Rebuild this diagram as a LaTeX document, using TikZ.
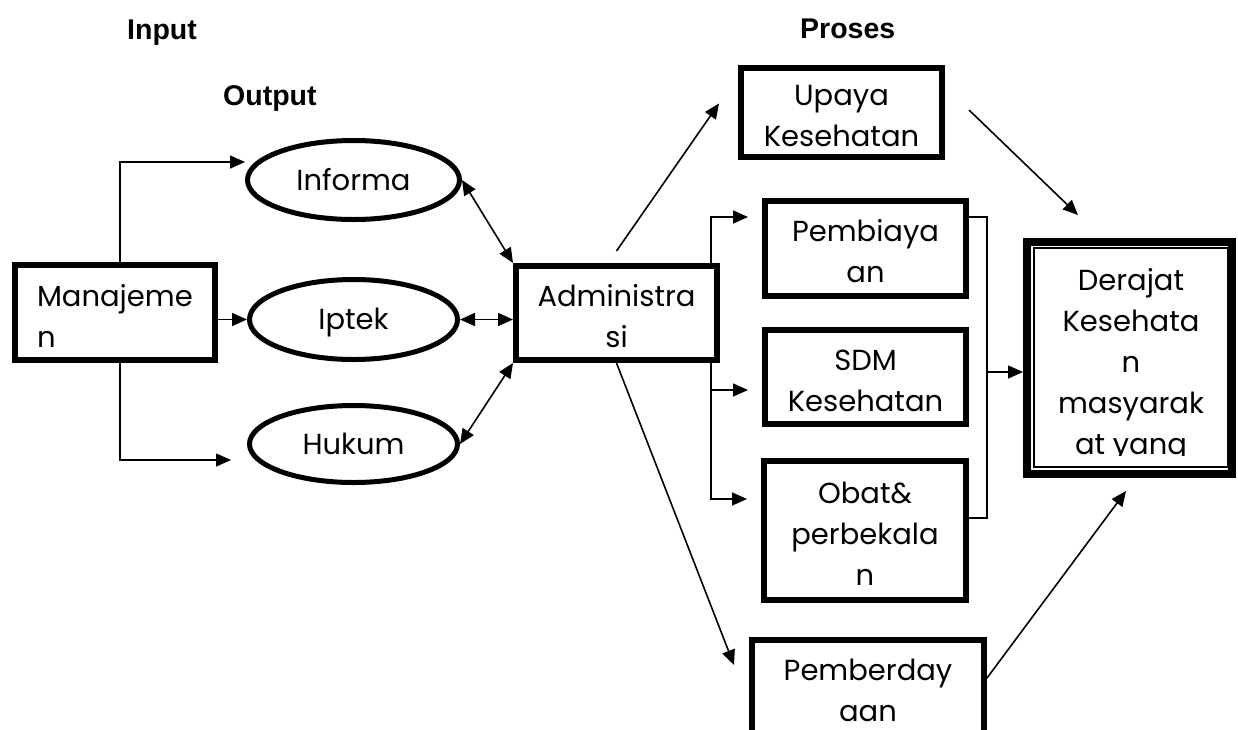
\documentclass[tikz,border=0pt]{standalone}
\usepackage{fontspec}
\setmainfont{Poppins}
\newfontfamily\headfont{Liberation Sans}
\usetikzlibrary{arrows.meta,shapes.geometric}

% strut that fixes the height of the first text row in the boxes
\newcommand\toprow{\rule{0pt}{28pt}}

\tikzset{
  bodyfont/.style={font=\fontsize{29}{41}\selectfont},
  boxthick/.style={draw,line width=6pt,rectangle,inner sep=0pt,align=center,bodyfont},
  ovalthick/.style={draw,line width=5pt,ellipse,inner sep=0pt,bodyfont,
    text height=20pt,text depth=0pt},
  boxtext/.style={anchor=north,inner sep=0pt,align=center,bodyfont},
  heading/.style={anchor=base west,inner sep=0pt,font=\headfont\bfseries\fontsize{28.5}{34}\selectfont},
  link/.style={line width=1.6pt},
  arr/.style={link,-{Triangle[length=15pt,width=13pt]}},
  darr/.style={link,{Triangle[length=15pt,width=13pt]}-{Triangle[length=15pt,width=13pt]}},
}

\begin{document}
\begin{tikzpicture}[x=1pt,y=-1pt]
\useasboundingbox (0,0) rectangle (1238,729);

% headings
\node[heading] (hin)  at (127,39)  {Input};
\node[heading] (hout) at (223,105) {Output};
\node[heading] (hpro) at (800,38)  {Proses};

% input side
\node[boxthick,minimum height=95pt,text width=156pt,inner xsep=22pt,align=left]
  (manajemen) at (115,312.5) {\toprow Manajeme\\n};
\node[ovalthick,minimum width=212pt,minimum height=79pt] (informa) at (353.5,180) {Informa};
\node[ovalthick,minimum width=208pt,minimum height=80pt] (iptek)   at (353.5,319.5) {Iptek};
\node[ovalthick,minimum width=208pt,minimum height=77pt] (hukum)   at (353.5,444) {Hukum};

% process side
\node[boxthick,minimum width=201pt,minimum height=94pt] (admin) at (616.5,313) {\toprow Administra\\si};
\node[boxthick,minimum width=201pt,minimum height=89pt] (upaya) at (841.5,112.5) {\toprow Upaya\\Kesehatan};
\node[boxthick,minimum width=201pt,minimum height=95pt] (pemb)  at (865.5,248.5) {\toprow Pembiaya\\an};
\node[boxthick,minimum width=201pt,minimum height=94pt] (sdm)   at (865.5,377) {\toprow SDM\\Kesehatan};
\node[boxthick,minimum width=202pt,minimum height=139pt] (obat) at (865,530.5) {\toprow Obat\&\\perbekala\\n};
\node[draw,line width=6pt,rectangle,inner sep=0pt,minimum width=232pt,minimum height=142pt,anchor=north]
  (pember) at (868,637) {};
\node[boxtext] (pembertext) at (868,652) {\toprow Pemberday\\aan};

% outcome box with double border
\node[draw,line width=8pt,rectangle,inner sep=0pt,minimum width=205pt,minimum height=232pt]
  (derajat) at (1129.5,358) {};
\node[draw,line width=2pt,rectangle,inner sep=0pt,minimum width=194pt,minimum height=219pt]
  (derajatin) at (1131,357.5) {};
\begin{scope}
  \clip (1036,250) rectangle (1226,455);
  \node[boxtext] (derajattext) at (1131,262) {\toprow Derajat\\Kesehata\\n\\masyarak\\at yang};
\end{scope}

% input connectors
\draw[arr] ([xshift=5pt]manajemen.north) |- ([yshift=18pt]informa.west);
\draw[arr] ([xshift=5pt]manajemen.south) |- ([xshift=-16pt,yshift=-16pt]hukum.west);
\draw[arr] (manajemen.east |- iptek.west) -- (iptek.west);

\draw[darr] (informa.east) -- (admin.north west);
\draw[darr] (iptek.east) -- (iptek.east -| admin.west);
\draw[darr] (hukum.east) -- (admin.south west);

% process connectors
\draw[arr] ([yshift=12pt]admin.north) -- ([xshift=-19pt,yshift=9pt]upaya.west);
\draw[arr] ([xshift=24pt,yshift=2.5pt]upaya.east) -- ([xshift=55pt,yshift=23pt]derajat.north west);

\draw[arr] ([xshift=-9pt]admin.north east) |- ([xshift=-14pt,yshift=-19pt]pemb.north west);
\draw[arr] ([xshift=-9pt]admin.south east) |- ([xshift=-14pt,yshift=-13pt]sdm.west);
\draw[arr] ([xshift=-9pt]admin.south east) |- ([xshift=-14pt,yshift=31.5pt]obat.west);

\draw[link] ([yshift=-19pt]pemb.north east) -- ++(18,0) coordinate (bracktop)
  |- ([yshift=12.5pt]obat.east);
\coordinate (brackmid) at (bracktop |- 0,372);
\draw[arr] (brackmid) -- (brackmid -| derajat.west);

\draw[arr] (admin.south) -- ([xshift=-15pt,yshift=-28pt]pember.north west);
\draw[arr] ([yshift=-41pt]pember.north east) -- ([xshift=-3.5pt,yshift=-13pt]derajat.south);
\end{tikzpicture}
\end{document}
